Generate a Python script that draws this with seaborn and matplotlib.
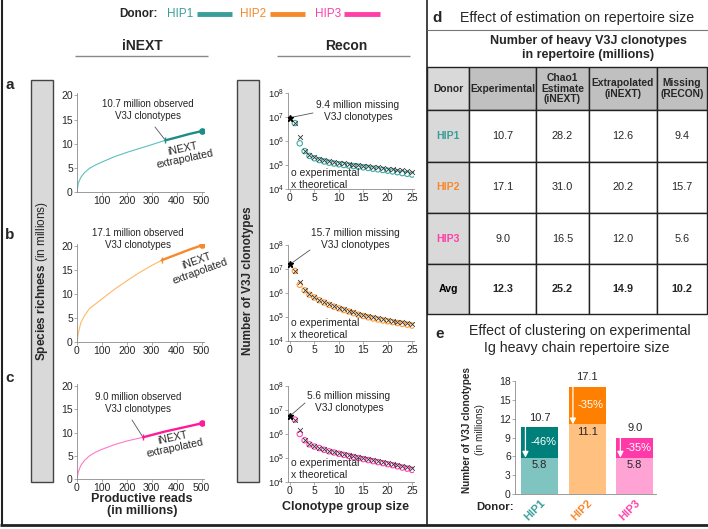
import numpy as np
import matplotlib
matplotlib.use('Agg')
import matplotlib.pyplot as plt
import seaborn as sns
from matplotlib.lines import Line2D
from matplotlib.patches import Rectangle

W, H = 708, 529

donors = ['HIP1', 'HIP2', 'HIP3']
text_colors = ['#3a9f9a', '#f7892b', '#ff40a8']

# table d
table_rows = ['HIP1', 'HIP2', 'HIP3', 'Avg']
experimental = [10.7, 17.1, 9.0, 12.3]
chao1 = [28.2, 31.0, 16.5, 25.2]
extrapolated = [12.6, 20.2, 12.0, 14.9]
missing = [9.4, 15.7, 5.6, 10.2]
table_header = ['Donor', 'Experimental', 'Chao1\nEstimate\n(iNEXT)', 'Extrapolated\n(iNEXT)', 'Missing\n(RECON)']

# iNEXT rarefaction curves (reads in millions, richness in millions)
reads_obs = [
    [0, 5, 15, 30, 50, 75, 100, 150, 200, 250, 300, 355],
    [0, 5, 15, 30, 50, 75, 100, 150, 200, 250, 300, 340],
    [0, 5, 15, 30, 50, 75, 100, 150, 200, 265],
]
rich_obs = [
    [0, 1.8, 3.0, 4.0, 4.9, 5.6, 6.2, 7.3, 8.2, 9.0, 9.8, 10.7],
    [0, 1.8, 4.0, 5.5, 7.0, 8.0, 9.0, 11.0, 12.8, 14.5, 16.0, 17.1],
    [0, 1.5, 2.9, 4.0, 5.0, 5.8, 6.4, 7.4, 8.2, 9.0],
]
reads_ext = [
    [355, 400, 450, 500],
    [340, 400, 450, 500],
    [265, 350, 425, 500],
]
rich_ext = [
    [10.7, 11.3, 12.0, 12.6],
    [17.1, 18.3, 19.3, 20.2],
    [9.0, 10.2, 11.1, 12.0],
]

# Recon clonotype group size distributions (group size 1..25)
group_size = list(range(1, 26))
recon_exp = [
    [5.6e6, 8.0e5, 3.8e5, 2.4e5, 1.9e5, 1.6e5, 1.4e5, 1.25e5, 1.15e5, 1.07e5, 1.0e5, 9.5e4, 9.0e4,
     8.5e4, 8.0e4, 7.5e4, 7.0e4, 6.6e4, 6.2e4, 5.8e4, 5.4e4, 5.0e4, 4.6e4, 4.3e4, 4.0e4],
    [8.3e6, 2.2e6, 1.3e6, 8.5e5, 6.5e5, 5.0e5, 4.0e5, 3.2e5, 2.7e5, 2.3e5, 1.95e5, 1.7e5, 1.45e5,
     1.25e5, 1.1e5, 9.7e4, 8.7e4, 7.9e4, 7.2e4, 6.6e4, 6.1e4, 5.6e4, 5.2e4, 4.8e4, 4.4e4],
    [4.0e6, 1.0e6, 5.5e5, 3.7e5, 3.0e5, 2.6e5, 2.2e5, 1.9e5, 1.7e5, 1.5e5, 1.35e5, 1.22e5, 1.1e5,
     1.0e5, 9.0e4, 8.2e4, 7.4e4, 6.7e4, 6.1e4, 5.5e4, 5.0e4, 4.5e4, 4.0e4, 3.6e4, 3.2e4],
]
recon_theo = [
    [5.6e6, 1.5e6, 4.0e5, 2.6e5, 2.1e5, 1.8e5, 1.6e5, 1.45e5, 1.35e5, 1.25e5, 1.18e5, 1.1e5, 1.04e5,
     9.8e4, 9.3e4, 8.8e4, 8.3e4, 7.9e4, 7.5e4, 7.1e4, 6.7e4, 6.3e4, 5.9e4, 5.5e4, 5.1e4],
    [8.3e6, 2.8e6, 1.35e6, 8.8e5, 6.7e5, 5.2e5, 4.2e5, 3.4e5, 2.85e5, 2.45e5, 2.1e5, 1.8e5, 1.55e5,
     1.35e5, 1.2e5, 1.07e5, 9.6e4, 8.7e4, 8.0e4, 7.4e4, 6.9e4, 6.4e4, 6.0e4, 5.6e4, 5.2e4],
    [4.0e6, 1.4e6, 5.7e5, 3.9e5, 3.2e5, 2.7e5, 2.3e5, 2.0e5, 1.8e5, 1.6e5, 1.45e5, 1.3e5, 1.18e5,
     1.07e5, 9.7e4, 8.8e4, 8.0e4, 7.3e4, 6.7e4, 6.1e4, 5.6e4, 5.1e4, 4.6e4, 4.2e4, 3.8e4],
]

# panel e
clustered = [5.8, 11.1, 5.8]
reduction_pct = [46, 35, 35]

obs_colors = ['#5cc0bb', '#ffb866', '#ff7ac4']
ext_colors = ['#1c8d87', '#f7892b', '#ff1a9a']
circle_colors = ['#3aaaa3', '#ff9b33', '#ff44b4']
bar_dark = ['#00807a', '#ff8000', '#ff3aa8']
bar_light = ['#7fc4c1', '#ffc080', '#ffa3d5']

sns.set_style('ticks')
plt.rcParams['font.family'] = ['Liberation Sans', 'DejaVu Sans']
plt.rcParams['mathtext.fontset'] = 'custom'
plt.rcParams['mathtext.rm'] = 'Liberation Sans'
plt.rcParams['mathtext.bf'] = 'Liberation Sans:bold'
plt.rcParams['mathtext.it'] = 'Liberation Sans:italic'

fig = plt.figure(figsize=(W / 100, H / 100), dpi=100)


def fx(x):
    return x / W


def fy(y):
    return 1 - y / H


def add_ax(x0, y0, x1, y1):
    return fig.add_axes([x0 / W, 1 - y1 / H, (x1 - x0) / W, (y1 - y0) / H])


def fig_line(x0, y0, x1, y1, color='#222222', lw=1.0):
    fig.add_artist(Line2D([fx(x0), fx(x1)], [fy(y0), fy(y1)], transform=fig.transFigure,
                          color=color, lw=lw, solid_capstyle='butt'))


def txt(x, y, s, **kw):
    kw.setdefault('ha', 'center')
    kw.setdefault('va', 'center')
    fig.text(fx(x), fy(y), s, **kw)


def style_axis(ax):
    sns.despine(ax=ax)
    for side in ['left', 'bottom']:
        ax.spines[side].set_color('#8a8a8a')
        ax.spines[side].set_linewidth(0.6)
    ax.tick_params(length=2, width=0.5, color='#8a8a8a', labelsize=7.5, pad=1)
    ax.set_xlabel('')
    ax.set_ylabel('')


# ---- frame lines ----
fig_line(1.5, 0, 1.5, 525, lw=1.5)
fig_line(0, 525, 708, 525, lw=2)
fig_line(427, 0, 427, 525, lw=1.2)
fig_line(427, 30, 708, 30, color='#777777', lw=0.8)

# ---- donor legend ----
txt(138, 14, 'Donor:', fontsize=8.5, fontweight='bold')
legend_x = [(167, 197, 232), (240, 270, 305), (315, 344, 380)]
for name, col, (tx, l0, l1) in zip(donors, text_colors, legend_x):
    txt(tx, 14, name, fontsize=8.5, color=col, ha='left')
    fig_line(l0, 14, l1, 14, color=col, lw=3.5)

# ---- column headers ----
txt(142, 46, 'iNEXT', fontsize=10, fontweight='bold')
fig_line(75, 56, 208, 56, color='#888888', lw=1)
txt(346, 46, 'Recon', fontsize=10, fontweight='bold')
fig_line(277, 56, 410, 56, color='#888888', lw=1)

for lab, y in zip(['a', 'b', 'c'], [85, 235, 378]):
    txt(10, y, lab, fontsize=11, fontweight='bold')

# gray label boxes
for x0 in [31, 237]:
    fig.add_artist(Rectangle((fx(x0), fy(482)), 22 / W, 402 / H, transform=fig.transFigure,
                             facecolor='#d9d9d9', edgecolor='#444444', lw=1))
txt(42, 281, r'$\bf{Species\ richness}$ (in millions)', fontsize=8.5, rotation=90)
txt(248, 281, 'Number of V3J clonotypes', fontsize=8.5, rotation=90, fontweight='bold')

# ---- iNEXT panels ----
inext_boxes = [(77, 93, 204, 192), (77, 244, 204, 342), (77, 384, 204, 479)]
obs_text_pos = [(148, 110), (138, 239), (138, 403)]
obs_line_start = [(155, 127), None, (132, 420)]
ext_text_pos = [(184, 154), (198, 266), (174, 443)]
ext_rot = [12, 20, 12]

for i in range(3):
    ax = add_ax(*inext_boxes[i])
    sns.lineplot(x=reads_obs[i], y=rich_obs[i], color=obs_colors[i], lw=0.8, ax=ax, sort=False)
    sns.lineplot(x=reads_ext[i], y=rich_ext[i], color=ext_colors[i], lw=1.7, ax=ax, sort=False)
    ax.plot(reads_ext[i][-1], rich_ext[i][-1], 'o', color=ext_colors[i], ms=3.8)
    ax.plot(reads_obs[i][-1], rich_obs[i][-1], marker='|', color=ext_colors[i], ms=5, mew=1)
    ax.set_xlim(0, 510)
    ax.set_ylim(0, 20.5)
    ax.set_yticks([0, 5, 10, 15, 20])
    ax.set_xticks([100, 200, 300, 400, 500] if i == 0 else [0, 100, 200, 300, 400, 500])
    style_axis(ax)
    ox, oy = obs_text_pos[i]
    txt(ox, oy, f'{experimental[i]} million observed\nV3J clonotypes', fontsize=7,
        linespacing=1.15)
    if obs_line_start[i] is not None:
        sx, sy = obs_line_start[i]
        ax.annotate('', xy=(reads_obs[i][-1], rich_obs[i][-1]), xycoords='data',
                    xytext=(fx(sx), fy(sy)), textcoords='figure fraction',
                    arrowprops=dict(arrowstyle='-', color='#555555', lw=0.6, shrinkA=0, shrinkB=1))
    ex, ey = ext_text_pos[i]
    txt(ex, ey, 'iNEXT\nextrapolated', fontsize=7.6, rotation=ext_rot[i], linespacing=1.05,
        rotation_mode='anchor')

txt(142, 505, 'Productive reads\n(in millions)', fontsize=9, fontweight='bold', linespacing=1.1)

# ---- Recon panels ----
recon_boxes = [(288, 93, 414, 189), (288, 245, 414, 341), (288, 386, 414, 482)]
miss_text_pos = [(358, 111), (355, 239), (349, 402)]
miss_line_start = [(313, 113), (310, 250), (305, 403)]
legend_y = [179, 329, 469]

for i in range(3):
    ax = add_ax(*recon_boxes[i])
    ax.set_yscale('log')
    sns.scatterplot(x=group_size, y=recon_exp[i], marker='o', s=15, facecolor='none',
                    edgecolor=circle_colors[i], linewidth=0.8, ax=ax, zorder=3)
    sns.scatterplot(x=group_size, y=recon_theo[i], marker='x', s=12, color='#333333',
                    linewidth=0.6, ax=ax, zorder=4)
    ax.plot([0], [missing[i] * 1e6], marker='*', color='black', ms=4.5, ls='none', zorder=5)
    ax.set_xlim(-0.4, 25.4)
    ax.set_ylim(1e4, 1e8)
    ax.set_xticks([0, 5, 10, 15, 20, 25])
    ax.set_yticks([1e4, 1e5, 1e6, 1e7, 1e8])
    ax.set_yticklabels([r'$10^{%d}$' % k for k in range(4, 9)])
    ax.minorticks_off()
    style_axis(ax)
    ax.tick_params(axis='y', labelsize=6.8)
    mx, my = miss_text_pos[i]
    txt(mx, my, f'{missing[i]} million missing\nV3J clonotypes', fontsize=7.3, linespacing=1.15)
    sx, sy = miss_line_start[i]
    ax.annotate('', xy=(0, missing[i] * 1e6), xycoords='data',
                xytext=(fx(sx), fy(sy)), textcoords='figure fraction',
                arrowprops=dict(arrowstyle='-', color='#555555', lw=0.6, shrinkA=0, shrinkB=2))
    txt(291, legend_y[i], 'o experimental\nx theoretical', fontsize=7.5, ha='left',
        linespacing=1.2, zorder=6)

txt(346, 507, 'Clonotype group size', fontsize=9, fontweight='bold')

# ---- panel d : table ----
txt(437, 18, 'd', fontsize=11, fontweight='bold')
txt(460, 18, 'Effect of estimation on repertoire size', fontsize=10.2, ha='left')
txt(588, 48, 'Number of heavy V3J clonotypes\nin repertoire (millions)', fontsize=9,
    fontweight='bold', linespacing=1.15)

col_edges = [427, 469, 536, 589, 657, 707]
row_edges = [67, 110, 162, 213, 264, 314]
ax_t = add_ax(col_edges[0], row_edges[0], col_edges[-1], row_edges[-1])
ax_t.set_xlim(col_edges[0], col_edges[-1])
ax_t.set_ylim(row_edges[-1], row_edges[0])
ax_t.axis('off')

columns = [table_rows, experimental, chao1, extrapolated, missing]
for c in range(5):
    x0, x1 = col_edges[c], col_edges[c + 1]
    for r in range(5):
        y0, y1 = row_edges[r], row_edges[r + 1]
        if c == 0:
            fc = '#d9d9d9'
        elif r == 0:
            fc = '#c0c0c0'
        else:
            fc = 'white'
        ax_t.add_patch(Rectangle((x0, y0), x1 - x0, y1 - y0, facecolor=fc,
                                 edgecolor='#222222', lw=1, clip_on=False))
        xc, yc = (x0 + x1) / 2, (y0 + y1) / 2
        if r == 0:
            ax_t.text(xc, yc, table_header[c], ha='center', va='center', fontsize=7.4,
                      fontweight='bold', linespacing=1.1)
            continue
        val = columns[c][r - 1]
        is_avg = table_rows[r - 1] == 'Avg'
        if c == 0:
            col = 'black' if is_avg else text_colors[r - 1]
            ax_t.text(xc, yc, val, ha='center', va='center', fontsize=7.6, color=col,
                      fontweight='bold')
        else:
            ax_t.text(xc, yc, f'{val:.1f}', ha='center', va='center', fontsize=7.8,
                      fontweight='bold' if is_avg else 'normal')

# ---- panel e : clustering bars ----
txt(440, 334, 'e', fontsize=11, fontweight='bold')
txt(580, 331, 'Effect of clustering on experimental', fontsize=10.2)
txt(577, 348, 'Ig heavy chain repertoire size', fontsize=10.2)

ax_e = add_ax(515, 381, 656, 494)
totals = experimental[:3]
sns.barplot(x=donors, y=totals, hue=donors, palette=bar_dark, legend=False, width=0.78,
            saturation=1, ax=ax_e, edgecolor='none')
sns.barplot(x=donors, y=clustered, hue=donors, palette=bar_light, legend=False, width=0.78,
            saturation=1, ax=ax_e, edgecolor='none')
ax_e.set_xlim(-0.52, 2.45)
ax_e.set_ylim(0, 18)
ax_e.set_yticks(range(0, 19, 3))
style_axis(ax_e)
ax_e.tick_params(axis='x', length=0, pad=3)
for lab, col in zip(ax_e.get_xticklabels(), text_colors):
    lab.set_color(col)
    lab.set_rotation(45)
    lab.set_ha('right')
    lab.set_rotation_mode('anchor')
    lab.set_fontsize(8)
    lab.set_fontweight('bold')

for i in range(3):
    ax_e.annotate(f'{totals[i]:.1f}', xy=(i, totals[i]), xytext=(0, 3), textcoords='offset points',
                  ha='center', va='bottom', fontsize=8)
    ax_e.text(i, clustered[i] - 0.35, f'{clustered[i]:.1f}', ha='center', va='top', fontsize=8)
    ax_e.text(i + 0.08, (totals[i] + clustered[i]) / 2, f'-{reduction_pct[i]}%', ha='center',
              va='center', fontsize=8, color='white')
    ax_e.annotate('', xy=(i - 0.3, clustered[i]), xytext=(i - 0.3, totals[i] - 0.1),
                  arrowprops=dict(arrowstyle='-|>,head_width=0.18,head_length=0.35',
                                  color='white', lw=0.9, shrinkA=0, shrinkB=0))

txt(467, 430, 'Number of V3J clonotypes', fontsize=7.2, fontweight='bold', rotation=90)
txt(480, 430, '(in millions)', fontsize=7.2, rotation=90)
txt(495, 507, 'Donor:', fontsize=8.2, fontweight='bold')

fig.savefig('out.png', dpi=100)
